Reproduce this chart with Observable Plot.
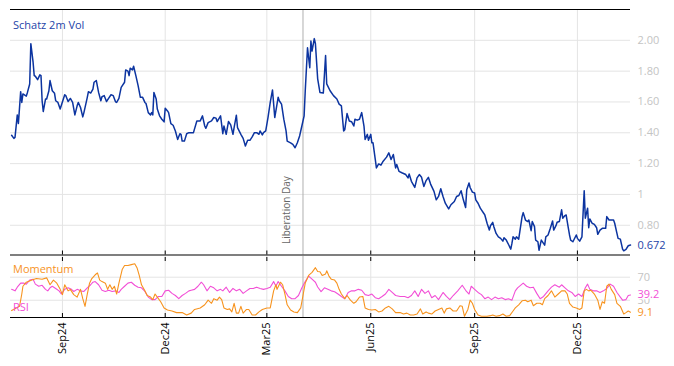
<!DOCTYPE html>
<html><head><meta charset="utf-8">
<script src="https://cdn.jsdelivr.net/npm/d3@7"></script>
<script src="https://cdn.jsdelivr.net/npm/@observablehq/plot@0.6"></script>
<style>
body{margin:0;background:#fff;font-family:'Open Sans',sans-serif;}
#wrap{position:relative;width:674px;height:366px;overflow:hidden;}
#wrap svg{display:block;}
.lab{position:absolute;font-size:11px;white-space:nowrap;line-height:1;}
</style></head>
<body><div id="wrap"></div>
<script>
const xTicks = ["2024-09-01","2024-12-01","2025-03-01","2025-06-01","2025-09-01","2025-12-01"];
const xDomainDates = ["2024-07-17","2026-01-17"];
const volTicks = [0.8,1,1.2,1.4,1.6,1.8,2.0];
const volTickLabels = ["0.80","1","1.20","1.40","1.60","1.80","2.00"];
const volDomain = [0.607,2.2];
const lowTicks = [30,70];
const lowDomain = [0,106];
const libDayDate = "2025-04-02";
const libLabel = "Liberation Day";

const volDates = [
"2024-07-18","2024-07-20","2024-07-21","2024-07-23","2024-07-24","2024-07-26","2024-07-27","2024-07-28","2024-07-31","2024-08-01",
"2024-08-03","2024-08-04","2024-08-06","2024-08-07","2024-08-08","2024-08-10","2024-08-12","2024-08-13","2024-08-14","2024-08-15",
"2024-08-17","2024-08-18","2024-08-20","2024-08-21","2024-08-23","2024-08-25","2024-08-26","2024-08-28","2024-08-30","2024-09-03",
"2024-09-04","2024-09-06","2024-09-08","2024-09-10","2024-09-12","2024-09-14","2024-09-15","2024-09-17","2024-09-19","2024-09-20",
"2024-09-23","2024-09-24","2024-09-26","2024-09-28","2024-09-29","2024-10-01","2024-10-03","2024-10-05","2024-10-06","2024-10-08",
"2024-10-10","2024-10-12","2024-10-14","2024-10-16","2024-10-18","2024-10-19","2024-10-21","2024-10-23","2024-10-26","2024-10-27",
"2024-10-29","2024-10-30","2024-10-31","2024-11-02","2024-11-03","2024-11-05","2024-11-07","2024-11-09","2024-11-11","2024-11-13",
"2024-11-14","2024-11-16","2024-11-18","2024-11-19","2024-11-20","2024-11-21","2024-11-23","2024-11-24","2024-11-26","2024-11-28",
"2024-11-30","2024-12-01","2024-12-03","2024-12-04","2024-12-06","2024-12-08","2024-12-10","2024-12-12","2024-12-14","2024-12-15",
"2024-12-16","2024-12-18","2024-12-20","2024-12-22","2024-12-26","2024-12-29","2025-01-01","2025-01-03","2025-01-05","2025-01-06",
"2025-01-08","2025-01-11","2025-01-13","2025-01-15","2025-01-16","2025-01-19","2025-01-21","2025-01-22","2025-01-24","2025-01-26",
"2025-01-28","2025-01-30","2025-01-31","2025-02-02","2025-02-03","2025-02-06","2025-02-08","2025-02-10","2025-02-12","2025-02-14",
"2025-02-16","2025-02-18","2025-02-20","2025-02-22","2025-02-23","2025-02-25","2025-02-26","2025-02-28","2025-03-02","2025-03-04",
"2025-03-06","2025-03-08","2025-03-11","2025-03-12","2025-03-14","2025-03-16","2025-03-18","2025-03-19","2025-03-22","2025-03-24",
"2025-03-26","2025-03-28","2025-03-30","2025-04-01","2025-04-03","2025-04-04","2025-04-06","2025-04-08","2025-04-09","2025-04-10",
"2025-04-12","2025-04-13","2025-04-15","2025-04-17","2025-04-20","2025-04-22","2025-04-23","2025-04-26","2025-04-29","2025-05-02",
"2025-05-04","2025-05-06","2025-05-08","2025-05-09","2025-05-11","2025-05-13","2025-05-15","2025-05-17","2025-05-18","2025-05-20",
"2025-05-22","2025-05-24","2025-05-26","2025-05-27","2025-05-29","2025-05-30","2025-06-01","2025-06-02","2025-06-03","2025-06-05",
"2025-06-06","2025-06-08","2025-06-10","2025-06-12","2025-06-15","2025-06-17","2025-06-19","2025-06-21","2025-06-23","2025-06-24",
"2025-06-26","2025-06-29","2025-07-02","2025-07-04","2025-07-05","2025-07-07","2025-07-10","2025-07-12","2025-07-14","2025-07-16",
"2025-07-18","2025-07-20","2025-07-22","2025-07-24","2025-07-27","2025-07-29","2025-07-31","2025-08-02","2025-08-04","2025-08-06",
"2025-08-09","2025-08-11","2025-08-14","2025-08-16","2025-08-18","2025-08-20","2025-08-22","2025-08-24","2025-08-25","2025-08-27",
"2025-08-28","2025-08-30","2025-09-01","2025-09-02","2025-09-04","2025-09-06","2025-09-07","2025-09-09","2025-09-10","2025-09-12",
"2025-09-14","2025-09-15","2025-09-17","2025-09-18","2025-09-20","2025-09-22","2025-09-24","2025-09-26","2025-09-27","2025-09-29",
"2025-10-01","2025-10-03","2025-10-04","2025-10-05","2025-10-07","2025-10-08","2025-10-10","2025-10-11","2025-10-13","2025-10-14",
"2025-10-16","2025-10-18","2025-10-19","2025-10-21","2025-10-22","2025-10-24","2025-10-25","2025-10-27","2025-10-28","2025-10-30",
"2025-11-02","2025-11-03","2025-11-05","2025-11-07","2025-11-09","2025-11-10","2025-11-12","2025-11-13","2025-11-15","2025-11-17",
"2025-11-18","2025-11-20","2025-11-21","2025-11-23","2025-11-24","2025-11-25","2025-11-27","2025-11-30","2025-12-01","2025-12-03",
"2025-12-05","2025-12-07","2025-12-08","2025-12-10","2025-12-11","2025-12-12","2025-12-14","2025-12-16","2025-12-18","2025-12-19",
"2025-12-21","2025-12-23","2025-12-26","2025-12-27","2025-12-29","2026-01-02","2026-01-03","2026-01-05","2026-01-06","2026-01-08",
"2026-01-10","2026-01-11","2026-01-13","2026-01-15","2026-01-17"];
const volValues = [
1.384,1.364,1.37,1.516,1.46,1.667,1.597,1.652,1.638,1.662,
1.717,1.978,1.858,1.771,1.767,1.745,1.776,1.771,1.608,1.538,
1.619,1.619,1.673,1.739,1.673,1.656,1.608,1.597,1.554,1.647,
1.641,1.603,1.623,1.597,1.516,1.575,1.597,1.564,1.503,1.531,
1.63,1.667,1.658,1.684,1.728,1.739,1.662,1.608,1.634,1.641,
1.603,1.625,1.647,1.641,1.601,1.597,1.623,1.695,1.728,1.808,
1.80,1.771,1.819,1.808,1.832,1.771,1.706,1.63,1.63,1.597,
1.59,1.531,1.516,1.531,1.516,1.662,1.619,1.554,1.51,1.488,
1.471,1.56,1.542,1.531,1.46,1.449,1.412,1.357,1.394,1.39,
1.346,1.346,1.394,1.401,1.401,1.477,1.477,1.51,1.444,1.429,
1.466,1.477,1.499,1.495,1.473,1.51,1.394,1.444,1.39,1.473,
1.451,1.39,1.434,1.514,1.434,1.39,1.364,1.314,1.351,1.351,
1.373,1.401,1.401,1.39,1.412,1.386,1.401,1.412,1.499,1.597,
1.678,1.499,1.63,1.608,1.586,1.488,1.412,1.346,1.335,1.325,
1.303,1.335,1.379,1.444,1.51,1.673,1.952,1.822,1.995,1.93,
2.011,1.978,1.75,1.662,1.658,1.902,1.717,1.673,1.641,1.619,
1.586,1.575,1.412,1.42,1.525,1.477,1.472,1.444,1.488,1.482,
1.488,1.531,1.444,1.357,1.39,1.351,1.39,1.335,1.335,1.227,
1.172,1.198,1.19,1.216,1.242,1.27,1.227,1.259,1.172,1.194,
1.15,1.139,1.129,1.107,1.133,1.085,1.046,1.107,1.129,1.111,
1.052,1.09,1.111,1.067,1.02,0.965,0.987,1.037,0.987,0.943,
0.906,0.933,0.954,0.987,0.993,1.024,0.965,0.915,1.031,1.074,
1.045,1.015,1.009,0.965,0.943,0.911,0.9,0.878,0.867,0.813,
0.769,0.797,0.819,0.791,0.747,0.725,0.715,0.697,0.719,0.704,
0.675,0.645,0.682,0.725,0.71,0.725,0.71,0.758,0.856,0.882,
0.834,0.824,0.834,0.765,0.824,0.791,0.704,0.693,0.638,0.704,
0.671,0.725,0.737,0.78,0.828,0.769,0.797,0.819,0.824,0.9,
0.846,0.863,0.867,0.78,0.737,0.704,0.693,0.737,0.715,0.697,
0.725,1.024,0.846,0.911,0.784,0.841,0.813,0.806,0.784,0.741,
0.769,0.78,0.78,0.856,0.834,0.834,0.813,0.747,0.715,0.71,
0.645,0.634,0.643,0.667,0.672];

const rsiDates = [
"2024-07-18","2024-07-21","2024-07-23","2024-07-26","2024-07-29","2024-07-31","2024-08-03","2024-08-06","2024-08-08","2024-08-11",
"2024-08-14","2024-08-17","2024-08-19","2024-08-21","2024-08-23","2024-08-26","2024-08-29","2024-08-31","2024-09-03","2024-09-06",
"2024-09-09","2024-09-11","2024-09-14","2024-09-17","2024-09-20","2024-09-23","2024-09-26","2024-09-28","2024-09-30","2024-10-03",
"2024-10-06","2024-10-09","2024-10-12","2024-10-15","2024-10-18","2024-10-21","2024-10-23","2024-10-26","2024-10-29","2024-11-01",
"2024-11-04","2024-11-07","2024-11-10","2024-11-13","2024-11-16","2024-11-19","2024-11-22","2024-11-25","2024-11-28","2024-12-01",
"2024-12-04","2024-12-07","2024-12-10","2024-12-13","2024-12-16","2024-12-19","2024-12-22","2024-12-24","2024-12-27","2024-12-30",
"2025-01-02","2025-01-04","2025-01-07","2025-01-10","2025-01-13","2025-01-16","2025-01-19","2025-01-21","2025-01-24","2025-01-27",
"2025-01-30","2025-02-02","2025-02-05","2025-02-08","2025-02-11","2025-02-14","2025-02-17","2025-02-20","2025-02-23","2025-02-26",
"2025-03-01","2025-03-04","2025-03-07","2025-03-09","2025-03-11","2025-03-14","2025-03-17","2025-03-20","2025-03-23","2025-03-26",
"2025-03-29","2025-04-01","2025-04-04","2025-04-07","2025-04-10","2025-04-13","2025-04-15","2025-04-18","2025-04-21","2025-04-24",
"2025-04-27","2025-04-30","2025-05-03","2025-05-06","2025-05-09","2025-05-12","2025-05-15","2025-05-18","2025-05-21","2025-05-24",
"2025-05-27","2025-05-30","2025-06-02","2025-06-05","2025-06-08","2025-06-11","2025-06-14","2025-06-17","2025-06-20","2025-06-23",
"2025-06-27","2025-07-01","2025-07-04","2025-07-07","2025-07-10","2025-07-13","2025-07-16","2025-07-19","2025-07-22","2025-07-25",
"2025-07-28","2025-07-31","2025-08-04","2025-08-07","2025-08-10","2025-08-13","2025-08-17","2025-08-21","2025-08-24","2025-08-27",
"2025-08-29","2025-09-01","2025-09-04","2025-09-07","2025-09-10","2025-09-13","2025-09-16","2025-09-19","2025-09-22","2025-09-25",
"2025-09-28","2025-10-01","2025-10-04","2025-10-07","2025-10-09","2025-10-14","2025-10-17","2025-10-20","2025-10-23","2025-10-26",
"2025-10-29","2025-11-01","2025-11-05","2025-11-08","2025-11-11","2025-11-15","2025-11-17","2025-11-20","2025-11-23","2025-11-26",
"2025-11-29","2025-12-02","2025-12-05","2025-12-08","2025-12-10","2025-12-12","2025-12-15","2025-12-18","2025-12-21","2025-12-24",
"2025-12-27","2025-12-30","2026-01-02","2026-01-05","2026-01-08","2026-01-10","2026-01-13","2026-01-15","2026-01-17"];
const rsiValues = [
48.9,46.3,52.7,59.7,59.7,58,65,66.6,58,54.3,
56,48.9,46.3,51.6,54.3,50.5,46.3,40.8,48.9,51.6,
48.9,45.2,48.9,46.3,45.2,51.6,56.9,61.3,62.4,56.9,
47.3,45.2,47.3,45.2,46.3,43.5,48.9,54.3,59.7,61.3,
56,52.7,51.6,45.2,35.5,31.1,31.1,36.6,36.6,46.3,
47.3,41.9,38.2,32.7,38.2,41.9,46.3,47.3,48.9,54.3,
61.3,56.9,46.3,54.3,51.6,46.3,48.9,46.3,52.7,43.5,
50.5,46.3,48.9,41.9,46.3,50.5,50.5,52.7,50.5,48.9,
50.5,52.7,62.4,54.3,62.4,54.3,46.3,36.6,32.7,32.7,
38.2,51.6,62.4,72,66.6,61.3,53,45,51.6,48.9,
46.3,44.6,40.8,36.6,32.7,43.5,46.3,46.3,48.9,47.3,
39.8,38.2,40.8,34.4,32.7,36.6,40.8,48.9,43.5,38.2,
36.6,36.6,34.4,38.2,46.3,36.6,48.9,41.9,46.3,34.4,
38.2,31.1,43.5,36.6,31.1,38.2,46.3,56,47.3,40.8,
54.3,48.9,43.5,39.8,32.7,35.5,31.1,35.5,32.7,34.4,
31.1,32.7,30.1,46.3,51.6,59.7,54.3,51.6,52.7,41.9,
32.7,36.6,46.3,52.7,56.9,52.7,56.9,51.6,46.3,43.5,
36.6,40.8,36.6,51.6,58,48.9,46.3,46.3,43.5,46.3,
50.5,58,54.3,43.5,35.5,30.1,31.1,38.2,39.2];

const momDates = [
"2024-07-18","2024-07-25","2024-07-27","2024-07-28","2024-07-31","2024-08-05","2024-08-09","2024-08-14","2024-08-18","2024-08-21",
"2024-08-24","2024-08-27","2024-08-30","2024-09-01","2024-09-03","2024-09-06","2024-09-08","2024-09-11","2024-09-14","2024-09-17",
"2024-09-19","2024-09-21","2024-09-23","2024-09-25","2024-09-27","2024-09-30","2024-10-02","2024-10-04","2024-10-06","2024-10-09",
"2024-10-11","2024-10-13","2024-10-15","2024-10-17","2024-10-19","2024-10-21","2024-10-24","2024-10-26","2024-10-29","2024-11-01",
"2024-11-04","2024-11-06","2024-11-08","2024-11-10","2024-11-13","2024-11-15","2024-11-18","2024-11-20","2024-11-22","2024-11-24",
"2024-11-27","2024-11-30","2024-12-03","2024-12-07","2024-12-11","2024-12-16","2024-12-20","2024-12-24","2024-12-27","2025-01-01",
"2025-01-05","2025-01-08","2025-01-11","2025-01-13","2025-01-16","2025-01-18","2025-01-20","2025-01-22","2025-01-25","2025-01-27",
"2025-01-29","2025-01-31","2025-02-02","2025-02-04","2025-02-06","2025-02-08","2025-02-11","2025-02-13","2025-02-16","2025-02-19",
"2025-02-22","2025-02-25","2025-03-01","2025-03-04","2025-03-07","2025-03-09","2025-03-10","2025-03-13","2025-03-15","2025-03-17",
"2025-03-19","2025-03-22","2025-03-25","2025-03-28","2025-03-31","2025-04-02","2025-04-04","2025-04-07","2025-04-10","2025-04-13",
"2025-04-15","2025-04-17","2025-04-19","2025-04-22","2025-04-23","2025-04-25","2025-04-27","2025-04-30","2025-05-02","2025-05-04",
"2025-05-06","2025-05-09","2025-05-11","2025-05-14","2025-05-17","2025-05-19","2025-05-22","2025-05-25","2025-05-27","2025-05-30",
"2025-06-02","2025-06-05","2025-06-08","2025-06-11","2025-06-14","2025-06-17","2025-06-20","2025-06-23","2025-06-27","2025-06-30",
"2025-07-03","2025-07-06","2025-07-09","2025-07-12","2025-07-15","2025-07-17","2025-07-20","2025-07-22","2025-07-25","2025-07-28",
"2025-07-31","2025-08-03","2025-08-05","2025-08-07","2025-08-10","2025-08-13","2025-08-16","2025-08-19","2025-08-21","2025-08-23",
"2025-08-26","2025-08-28","2025-08-30","2025-09-01","2025-09-04","2025-09-07","2025-09-12","2025-09-15","2025-09-17","2025-09-20",
"2025-09-23","2025-09-26","2025-09-29","2025-10-02","2025-10-05","2025-10-07","2025-10-10","2025-10-13","2025-10-16","2025-10-18",
"2025-10-21","2025-10-23","2025-10-26","2025-10-29","2025-10-31","2025-11-02","2025-11-05","2025-11-08","2025-11-11","2025-11-14",
"2025-11-17","2025-11-20","2025-11-22","2025-11-24","2025-11-27","2025-11-30","2025-12-03","2025-12-05","2025-12-07","2025-12-09",
"2025-12-11","2025-12-13","2025-12-16","2025-12-19","2025-12-21","2025-12-23","2025-12-25","2025-12-27","2025-12-29","2025-12-31",
"2026-01-03","2026-01-05","2026-01-08","2026-01-11","2026-01-13","2026-01-15","2026-01-17"];
const momValues = [
12,19.4,40.8,54.3,61.3,65,67.7,66.6,68.9,56.9,
65,59.7,48.9,39.8,56.9,46.3,48.9,39.8,35.5,48.9,
32.7,19.4,40.8,59.7,67.7,74.2,77.4,65,62.4,59.7,
48.9,56.9,48.9,54.3,40.8,59.7,83.9,90.3,90.3,91.9,
93.5,86.6,73.1,56.9,46.3,38.2,35.5,31.1,40.8,35.5,
27.4,16.6,12.9,11.3,8.5,8.5,4.4,7.6,14,16.6,
22.1,30.1,24.7,32.7,30.1,35.5,31.1,16.6,14,15,
9.7,24.7,7.6,7.6,19.4,7.6,14,14,4.4,4.4,
9.7,14,16.6,16.6,46.3,56.9,48.9,61.3,56.9,40.8,
22.1,12.9,9.7,8.5,16.6,38.2,59.7,73.1,78.5,86.6,
80,79.5,73.1,75.8,81.1,72,66.6,65,59.7,48.9,
40.8,32.7,38.2,30.1,24.7,27.4,35.5,36.6,16.6,14,
12.9,14,9.7,11.3,16.6,19.4,15,8.5,8.5,6,
7.6,4.4,4.4,6,15,6,9.7,7.6,6,11.3,
14,16.6,7.6,15,16.6,11.3,11.3,20.5,19.4,2.1,
14,30.1,24.7,14,4.4,2.1,2.1,3.2,4.4,2.1,
3.2,6,2.1,3.2,11.3,16.6,22.1,29,30.1,27.4,
30.1,20.5,24.7,24.7,22.1,32.7,38.2,46.3,35.5,40.8,
46.3,46.3,40.8,24.7,18.2,16.6,14,16.6,46.3,48.9,
46.3,47.3,40.8,30.1,14,27.4,24.7,54.3,58,48.9,
39.8,24.7,19.4,6,8.5,11.3,9.1];

const parse = s => new Date(s + "T00:00:00Z");
const vol = volDates.map((d, i) => ({date: parse(d), value: volValues[i]}));
const rsi = rsiDates.map((d, i) => ({date: parse(d), value: rsiValues[i]}));
const mom = momDates.map((d, i) => ({date: parse(d), value: momValues[i]}));
const xT = xTicks.map(parse);
const xDomain = xDomainDates.map(parse);
const lib = [{date: parse(libDayDate), label: libLabel}];

const C_VOL = "#0c34a0", C_VOL_T = "#2444a8", C_MOM = "#f7931e", C_RSI = "#f24fd6";
const GRID = "#e4e4e4", TICKTXT = "#c4c4c4";
const font = {fontFamily: "'Open Sans', sans-serif", fontSize: "11px", background: "transparent", overflow: "visible"};

const topPlot = Plot.plot({
  width: 674, height: 256, marginLeft: 10, marginRight: 44, marginTop: 9, marginBottom: 1.5,
  style: font,
  x: {type: "utc", domain: xDomain},
  y: {domain: volDomain},
  marks: [
    Plot.gridY(volTicks, {stroke: GRID, strokeOpacity: 1}),
    Plot.gridX(xT, {stroke: GRID, strokeOpacity: 1}),
    Plot.ruleX(lib, {x: "date", stroke: "#b0b0b0"}),
    Plot.text(lib, {x: "date", text: "label", frameAnchor: "bottom", rotate: -90, textAnchor: "start", dx: -13, dy: -11, fill: "#666", fontSize: 10}),
    Plot.line(vol, {x: "date", y: "value", stroke: C_VOL, strokeWidth: 1.5}),
    Plot.axisY({anchor: "right", ticks: volTicks, tickFormat: d => volTickLabels[volTicks.indexOf(d)], tickSize: 0, tickPadding: 7, fill: TICKTXT, fontSize: 11, label: null}),
    Plot.axisX({ticks: xT, tickSize: 4, dy: -4, tickFormat: () => "", label: null}),
    Plot.ruleY([volDomain[0]], {stroke: "#000", strokeWidth: 1.2}),
    Plot.ruleY([volDomain[1]], {stroke: "#000", strokeWidth: 1.2}),
    Plot.text(vol.slice(-1), {x: "date", y: "value", text: d => d.value.toFixed(3), dx: 7, textAnchor: "start", fill: C_VOL_T, fontSize: 11, stroke: "white", strokeWidth: 3})
  ]
});

const bottomPlot = Plot.plot({
  width: 674, height: 110, marginLeft: 10, marginRight: 44, marginTop: 0, marginBottom: 49,
  style: font,
  x: {type: "utc", domain: xDomain},
  y: {domain: lowDomain},
  marks: [
    Plot.gridY(lowTicks, {stroke: GRID, strokeOpacity: 1}),
    Plot.gridX(xT, {stroke: GRID, strokeOpacity: 1}),
    Plot.ruleX(lib, {x: "date", stroke: "#b0b0b0"}),
    Plot.axisY({anchor: "right", ticks: lowTicks, tickSize: 0, tickPadding: 7, fill: TICKTXT, fontSize: 11, label: null}),
    Plot.line(rsi, {x: "date", y: "value", stroke: C_RSI, strokeWidth: 1.1}),
    Plot.line(mom, {x: "date", y: "value", stroke: C_MOM, strokeWidth: 1.1}),
    Plot.axisX({ticks: xT, tickSize: 4, dy: -4, tickFormat: () => "", label: null}),
    Plot.axisX({anchor: "top", ticks: xT, tickSize: 4, dy: 4, tickFormat: () => "", label: null}),
    Plot.axisX({ticks: xT, tickSize: 0, tickPadding: 5, tickRotate: -90, tickFormat: d3.utcFormat("%b%y"), fill: "#000", fontSize: 11, label: null}),
    Plot.ruleY([lowDomain[0]], {stroke: "#000", strokeWidth: 1.2}),
    Plot.text(rsi.slice(-1), {x: "date", y: "value", text: d => d.value.toFixed(1), dx: 7, textAnchor: "start", fill: C_RSI, fontSize: 11, stroke: "white", strokeWidth: 3}),
    Plot.text(mom.slice(-1), {x: "date", y: "value", text: d => d.value.toFixed(1), dx: 7, textAnchor: "start", fill: C_MOM, fontSize: 11, stroke: "white", strokeWidth: 3})
  ]
});

const wrap = document.getElementById("wrap");
wrap.appendChild(topPlot);
wrap.appendChild(bottomPlot);
function addLabel(text, color, left, topPx) {
  const el = document.createElement("div");
  el.className = "lab";
  el.textContent = text;
  el.style.color = color;
  el.style.left = left + "px";
  el.style.top = topPx + "px";
  wrap.appendChild(el);
}
addLabel("Schatz 2m Vol", C_VOL_T, 13, 19);
addLabel("Momentum", C_MOM, 13, 263);
addLabel("RSI", C_RSI, 13, 301);
</script>
</body></html>
